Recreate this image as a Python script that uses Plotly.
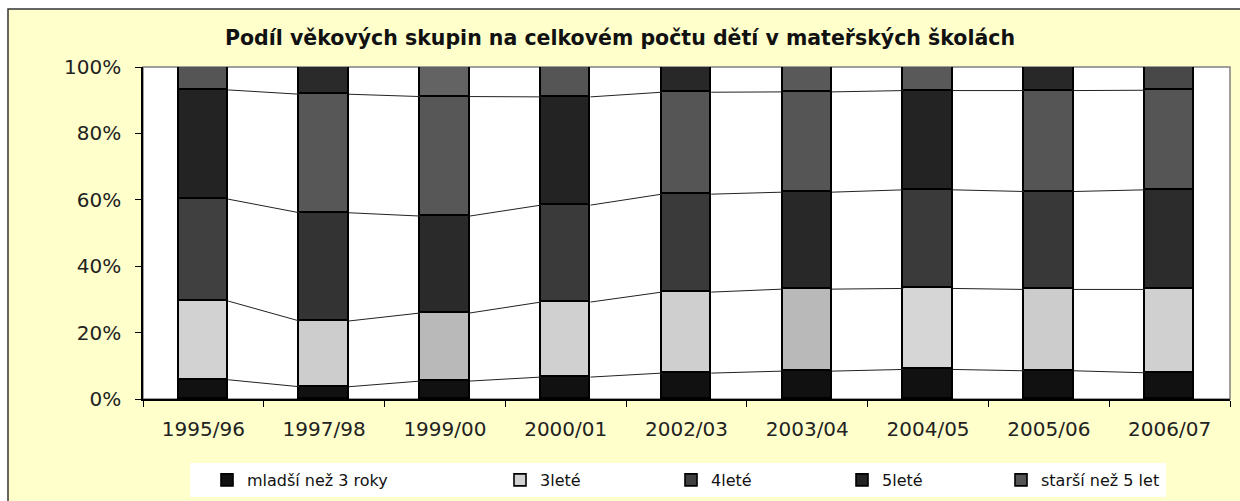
import plotly.graph_objects as go

# ---------------- data ----------------
categories = ["1995/96", "1997/98", "1999/00", "2000/01", "2002/03",
              "2003/04", "2004/05", "2005/06", "2006/07"]
mladsi = [5.8, 3.7, 5.4, 6.6, 7.8, 8.4, 8.9, 8.5, 7.9]      # mladší než 3 roky (%)
trileti = [23.7, 19.8, 20.5, 22.6, 24.4, 24.7, 24.4, 24.5, 25.1]  # 3leté
ctyrleti = [30.7, 32.6, 29.2, 29.2, 29.5, 29.2, 29.7, 29.5, 30.0]  # 4leté
petileti = [32.9, 35.7, 36.0, 32.6, 30.7, 30.2, 29.9, 30.4, 30.0]  # 5leté
starsi = [6.9, 8.2, 8.9, 9.0, 7.6, 7.5, 7.1, 7.1, 7.0]       # starší než 5 let
series_names = ["mladší než 3 roky", "3leté", "4leté", "5leté", "starší než 5 let"]
y_ticks = [0, 20, 40, 60, 80, 100]

# ---------------- styles ----------------
fill_mladsi = ["#111111"] * 9
fill_3 = ["#d2d2d2", "#cdcdcd", "#b9b9b9", "#d0d0d0", "#cfcfcf", "#b9b9b9", "#d6d6d6", "#cccccc", "#d0d0d0"]
fill_4 = ["#404040", "#333333", "#2a2a2a", "#3a3a3a", "#3a3a3a", "#282828", "#3a3a3a", "#383838", "#2c2c2c"]
fill_5 = ["#232323", "#575757", "#575757", "#232323", "#555555", "#555555", "#232323", "#555555", "#555555"]
fill_st = ["#555555", "#2a2a2a", "#636363", "#555555", "#282828", "#595959", "#595959", "#282828", "#484848"]
fills = [fill_mladsi, fill_3, fill_4, fill_5, fill_st]

BAR_W = 0.41
x_idx = list(range(len(categories)))
values = [mladsi, trileti, ctyrleti, petileti, starsi]

fig = go.Figure()
legend_ids = ["legend", "legend2", "legend3", "legend4", "legend5"]
for k, (name, vals, fc) in enumerate(zip(series_names, values, fills)):
    fig.add_trace(go.Bar(
        x=x_idx, y=[v / 100 for v in vals], width=BAR_W, name=name,
        legend=legend_ids[k],
        marker=dict(color=fc, line=dict(color="#000000", width=1.6)),
        hoverinfo="skip",
    ))

# series lines (Excel style) joining the segment tops of neighbouring bars
cum = []
run = [0.0] * len(categories)
for vals in values[:-1]:
    run = [r + v for r, v in zip(run, vals)]
    cum.append(list(run))
for level in cum:
    xs, ys = [], []
    for i in range(len(categories) - 1):
        xs += [i + BAR_W / 2, i + 1 - BAR_W / 2, None]
        ys += [level[i] / 100, level[i + 1] / 100, None]
    fig.add_trace(go.Scatter(x=xs, y=ys, mode="lines", showlegend=False,
                             line=dict(color="#222222", width=1), hoverinfo="skip"))

# ---------------- layout ----------------
W, H = 1240, 501
L, R, T, B = 143, 10, 67, 102
PW, PH = W - L - R, H - T - B


def px(xp):
    return (xp - L) / PW


def py(yp):
    return (H - B - yp) / PH


font_main = "DejaVu Sans, Liberation Sans, Arial, sans-serif"

legend_marker_left = [227, 520, 691, 862, 1021]
legend_common = dict(orientation="h", bgcolor="rgba(0,0,0,0)", borderwidth=0,
                     font=dict(family=font_main, size=16, color="#111111"),
                     yanchor="middle", y=py(480), xanchor="left", itemwidth=30,
                     itemclick=False, itemdoubleclick=False)
legends = {}
for k, lid in enumerate(legend_ids):
    legends[lid] = dict(legend_common, x=px(legend_marker_left[k] - 20))

fig.update_layout(
    width=W, height=H,
    margin=dict(l=L, r=R, t=T, b=B, pad=0, autoexpand=False),
    paper_bgcolor="#ffffff", plot_bgcolor="#ffffff",
    barmode="stack", bargap=0,
    showlegend=True,
    title=dict(text="<b>Podíl věkových skupin na celkovém počtu dětí v mateřských školách</b>",
               x=0.5, xanchor="center", y=1 - 38 / H, yanchor="middle",
               font=dict(family=font_main, size=20.5, color="#111111")),
    xaxis=dict(range=[-0.5, len(categories) - 0.5], tickmode="array", tickvals=x_idx,
               ticktext=categories, ticks="", showgrid=False, zeroline=False,
               showline=True, linecolor="#000000", linewidth=1.5,
               ticklabelstandoff=11, automargin=False,
               tickfont=dict(family=font_main, size=20, color="#222222"),
               minor=dict(tickmode="array", tickvals=[i - 0.5 for i in range(len(categories) + 1)],
                          ticks="outside", ticklen=6, tickwidth=1.2, tickcolor="#000000",
                          showgrid=False),
               fixedrange=True),
    yaxis=dict(range=[0, 1], tickmode="array", tickvals=[t / 100 for t in y_ticks],
               ticktext=[f"{t}%" for t in y_ticks], ticks="outside", ticklen=6,
               tickwidth=1.2, tickcolor="#000000", showgrid=False, zeroline=False,
               showline=True, linecolor="#000000", linewidth=1.5,
               ticklabelstandoff=10, automargin=False,
               tickfont=dict(family=font_main, size=20, color="#222222"),
               fixedrange=True),
    shapes=[
        dict(type="rect", xref="paper", yref="paper", x0=px(8), x1=px(1250), y0=py(520), y1=py(9),
             fillcolor="#ffffcc", line=dict(color="#333333", width=1.5), layer="below"),
        dict(type="rect", xref="paper", yref="paper", x0=px(190), x1=px(1166), y0=py(497), y1=py(463),
             fillcolor="#ffffff", line=dict(width=0), layer="below"),
        dict(type="rect", xref="x domain", yref="y domain", x0=0, x1=1, y0=0, y1=1,
             line=dict(color="#808080", width=1.5), fillcolor="#ffffff", layer="below"),
    ],
    **legends,
)

fig.write_html("out.html", config={"displayModeBar": False},
               post_script="document.body.style.margin='0';document.body.style.overflow='hidden';")
